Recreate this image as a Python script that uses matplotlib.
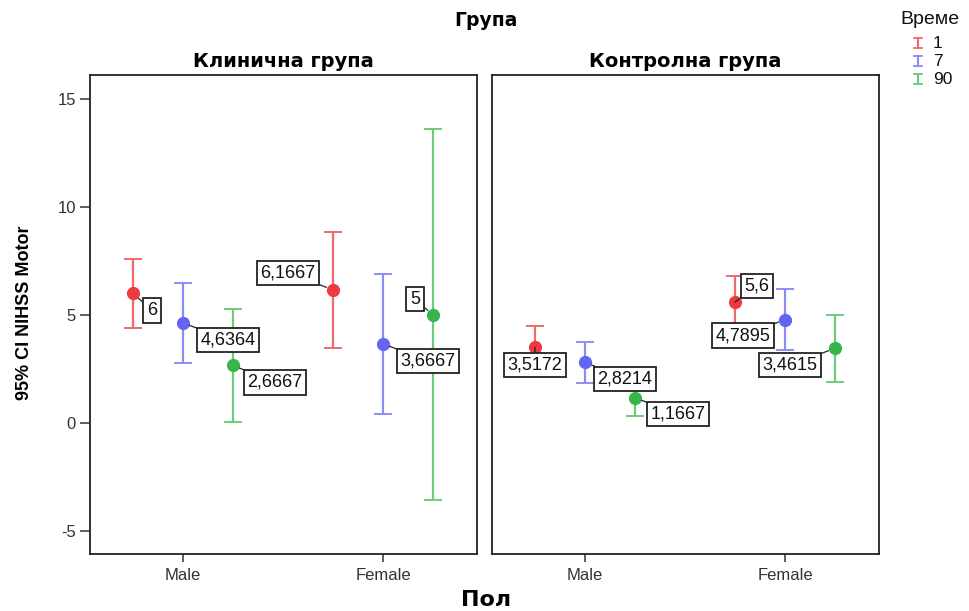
import matplotlib
matplotlib.use("Agg")
import matplotlib.pyplot as plt
from matplotlib.lines import Line2D
import numpy as np

# ---- data -------------------------------------------------------------
groups = ["Клинична група", "Контролна група"]
sexes = ["Male", "Female"]
times = ["1", "7", "90"]

# means per group -> time -> [Male, Female]
clin_mean = {"1": [6.0, 6.1667], "7": [4.6364, 3.6667], "90": [2.6667, 5.0]}
clin_lo = {"1": [4.40, 3.47], "7": [2.78, 0.42], "90": [0.05, -3.56]}
clin_hi = {"1": [7.59, 8.84], "7": [6.48, 6.90], "90": [5.28, 13.60]}

ctrl_mean = {"1": [3.5172, 5.6], "7": [2.8214, 4.7895], "90": [1.1667, 3.4615]}
ctrl_lo = {"1": [2.55, 4.40], "7": [1.87, 3.38], "90": [0.32, 1.91]}
ctrl_hi = {"1": [4.49, 6.80], "7": [3.76, 6.20], "90": [2.00, 5.00]}

label_text = {
    0: {"1": ["6", "6,1667"], "7": ["4,6364", "3,6667"], "90": ["2,6667", "5"]},
    1: {"1": ["3,5172", "5,6"], "7": ["2,8214", "4,7895"], "90": ["1,1667", "3,4615"]},
}

yticks = [-5, 0, 5, 10, 15]

# ---- styling ----------------------------------------------------------
marker_col = {"1": "#ec3a3e", "7": "#6464f2", "90": "#36b54a"}
bar_col = {"1": "#f06a6c", "7": "#8c8cf4", "90": "#6ccb7a"}
offset = {"1": -0.25, "7": 0.0, "90": 0.25}

# label box offsets (pixels) relative to each mean point
label_off = {
    0: {"1": [(19, -17), (-45, 17)], "7": [(45, -17), (45, -17)], "90": [(42, -17), (-18, 16)]},
    1: {"1": [(0, -18), (22, 16)], "7": [(40, -17), (-42, -16)], "90": [(43, -16), (-45, -17)]},
}

tick_font = dict(family="Liberation Sans", size=12, color="#333333")

fig = plt.figure(figsize=(9.69, 6.11), dpi=100)
fig.patch.set_facecolor("white")

W, H = 969, 611
panels = [(90, 477), (492, 879)]
top, bottom = 75, 554

all_data = [(clin_mean, clin_lo, clin_hi), (ctrl_mean, ctrl_lo, ctrl_hi)]

for gi, ((x0, x1), (mean, lo, hi)) in enumerate(zip(panels, all_data)):
    ax = fig.add_axes([x0 / W, (H - bottom) / H, (x1 - x0) / W, (bottom - top) / H])
    ax.set_xlim(-0.465, 1.47)
    ax.set_ylim(-6.06, 16.11)
    xs = np.arange(len(sexes))
    for t in times:
        m = np.array(mean[t])
        l = np.array(lo[t])
        h = np.array(hi[t])
        xp = xs + offset[t]
        ax.errorbar(xp, m, yerr=[m - l, h - m], fmt="none", ecolor=bar_col[t],
                    elinewidth=1.6, capsize=6.5, capthick=1.4, zorder=2)
        ax.plot(xp, m, "o", color=marker_col[t], markersize=8.5, zorder=3)
        for si in range(len(sexes)):
            dx, dy = label_off[gi][t][si]
            ax.annotate(label_text[gi][t][si], xy=(xp[si], m[si]), xytext=(dx, dy),
                        textcoords="offset pixels", ha="center", va="center",
                        fontfamily="Liberation Sans", fontsize=13, color="#111111",
                        bbox=dict(boxstyle="square,pad=0.2", fc="white", ec="#222222", lw=1.3),
                        arrowprops=dict(arrowstyle="-", color="#222222", lw=0.9,
                                        shrinkA=0, shrinkB=5),
                        zorder=5)
    ax.set_xticks(xs)
    ax.set_xticklabels(sexes, **tick_font)
    ax.tick_params(axis="x", length=6, width=1.2, color="#444444", pad=4)
    if gi == 0:
        ax.set_yticks(yticks)
        ax.set_yticklabels([str(v) for v in yticks], **tick_font)
        ax.tick_params(axis="y", length=7, width=1.2, color="#444444", pad=3)
    else:
        ax.set_yticks([])
    for sp in ax.spines.values():
        sp.set_color("#222222")
        sp.set_linewidth(1.3)
    ax.set_title(groups[gi], fontfamily="DejaVu Sans", fontweight="bold", fontsize=14,
                 pad=6)

fig.text(486 / W, 1 - 20 / H, "Група", ha="center", va="center",
         fontfamily="DejaVu Sans", fontweight="bold", fontsize=13.5)
fig.text(486 / W, 1 - 600 / H, "Пол", ha="center", va="center",
         fontfamily="DejaVu Sans", fontweight="bold", fontsize=16)
fig.text(25 / W, 1 - 313 / H, "95% CI NIHSS Motor", ha="center", va="center",
         rotation=90, fontfamily="Liberation Sans", fontweight="bold", fontsize=13)

# legend: small I-beam glyphs for each time point
fig.text(930 / W, 1 - 20 / H, "Време", ha="center", va="center",
         fontfamily="Liberation Sans", fontsize=14, color="#111111")
for i, t in enumerate(times):
    yc = 43 + 18 * i
    c = bar_col[t]
    fig.add_artist(Line2D([918 / W, 918 / W], [1 - (yc - 5) / H, 1 - (yc + 5) / H],
                          color=c, lw=1.5, transform=fig.transFigure))
    for yy in (yc - 5, yc + 5):
        fig.add_artist(Line2D([914 / W, 922 / W], [1 - yy / H, 1 - yy / H],
                              color=c, lw=1.3, transform=fig.transFigure))
    fig.text(933 / W, 1 - yc / H, t, ha="left", va="center",
             fontfamily="Liberation Sans", fontsize=12.5, color="#111111")

fig.savefig("out.png", dpi=100)
